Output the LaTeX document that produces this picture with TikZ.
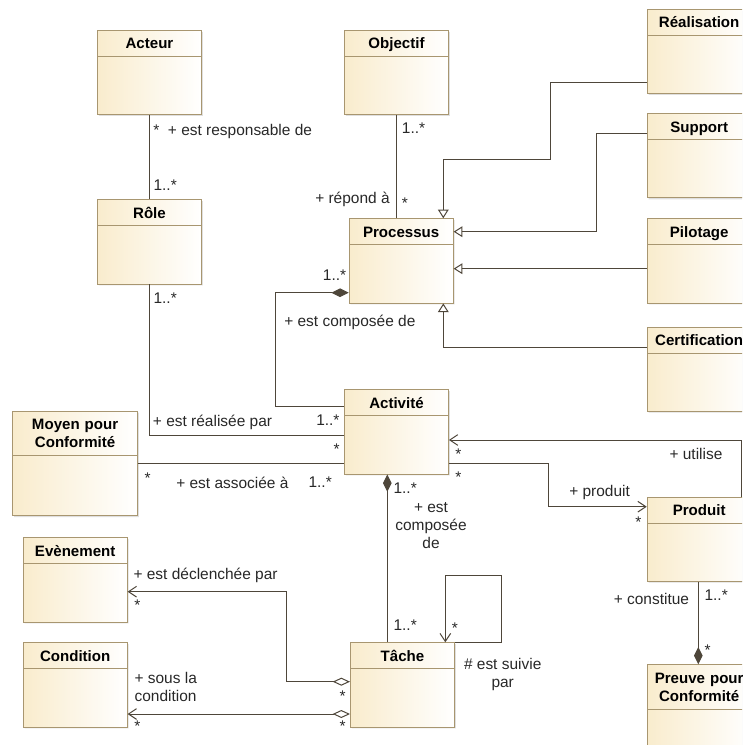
\documentclass[tikz,border=0pt]{standalone}
\usepackage{fontspec}
\setmainfont{Liberation Sans}
\usetikzlibrary{
  arrows.meta,
  calc,
  positioning,
  shapes.multipart,
  shadows
}
\definecolor{umlfill}{RGB}{249,236,205}
\definecolor{umlborder}{RGB}{168,150,112}
\definecolor{umlline}{RGB}{78,70,58}
\definecolor{umltext}{RGB}{40,40,40}
\newcommand{\umlhead}[1]{\rule{0pt}{13.5pt}#1\rule[-5.25pt]{0pt}{0pt}}
\newcommand{\umlbody}{\rule{0pt}{43pt}}

\begin{document}
\begin{tikzpicture}[
  x=0.75pt, y=-0.75pt,
  umlclass/.style={rectangle split, rectangle split parts=2, anchor=north west,
               draw=umlborder, line width=0.7pt, left color=umlfill, right color=white,
               text width=75pt, align=center, inner xsep=1.5pt, inner ysep=0pt,
               font=\fontsize{11.3}{13.75}\selectfont\bfseries,
               drop shadow={shadow xshift=1pt, shadow yshift=-1pt, opacity=0.25}},
  lbl/.style={inner sep=0pt, text=umltext, font=\fontsize{11.6}{13.5}\selectfont},
  assoc/.style={draw=umlline, line width=0.75pt},
  gener/.style={assoc, -{Triangle[open, length=6.5pt, width=8pt]}},
  navig/.style={assoc, -{Straight Barb[length=6pt, width=8pt]}},
  compos/.style={assoc, {Diamond[length=13pt, width=6.5pt]}-},
  aggreg/.style={assoc, {Diamond[open, fill=white, length=13pt, width=6pt]}-{Straight Barb[length=6pt, width=8pt]}}
]
  \useasboundingbox (0,0) rectangle (742,745);
  \clip (0,0) rectangle (742,745);

  % classes
  \node[umlclass] (acteur) at (97,30) {\umlhead{Acteur}\nodepart{two}\umlbody};
  \node[umlclass] (objectif) at (344,30) {\umlhead{Objectif}\nodepart{two}\umlbody};
  \node[umlclass] (role) at (97,199.3) {\umlhead{Rôle}\nodepart{two}\umlbody};
  \node[umlclass] (processus) at (348.7,218.3) {\umlhead{Processus}\nodepart{two}\umlbody};
  \node[umlclass] (realisation) at (646.7,9) {\umlhead{Réalisation}\nodepart{two}\umlbody};
  \node[umlclass] (support) at (646.7,113.3) {\umlhead{Support}\nodepart{two}\umlbody};
  \node[umlclass] (pilotage) at (646.7,218.3) {\umlhead{Pilotage}\nodepart{two}\umlbody};
  \node[umlclass] (certification) at (646.7,326.7) {\umlhead{Certification}\nodepart{two}\umlbody};
  \node[umlclass] (activite) at (344,389.3) {\umlhead{Activité}\nodepart{two}\umlbody};
  \node[umlclass, text width=90.5pt] (moyen) at (12.3,410.7)
    {\umlhead{Moyen pour\\Conformité}\nodepart{two}\rule{0pt}{44.5pt}};
  \node[umlclass] (produit) at (646.7,496.7) {\umlhead{Produit}\nodepart{two}\umlbody};
  \node[umlclass] (evenement) at (22.7,537.3) {\umlhead{Evènement}\nodepart{two}\umlbody};
  \node[umlclass] (condition) at (22.7,642.3) {\umlhead{Condition}\nodepart{two}\umlbody};
  \node[umlclass] (tache) at (350,642.3) {\umlhead{Tâche}\nodepart{two}\umlbody};
  \node[umlclass] (preuve) at (646.7,664.3)
    {\umlhead{Preuve pour\\Conformité}\nodepart{two}\rule{0pt}{45pt}};

  % associations
  \draw[assoc] (acteur) -- (role);
  \draw[assoc] (role.south) |- (activite.west |- 0,435);
  \draw[assoc] (moyen.east |- 0,463.3) -- (activite.west |- 0,463.3);
  \draw[compos] (processus.west |- 0,292.7) -| (275.3,406.7) -- (activite.west |- 0,406.7);
  \draw[assoc] (objectif.south) -- (objectif.south |- processus.north);
  \draw[navig] (produit.north -| 741,0) |- (activite.east |- 0,440);
  \draw[navig] (activite.east |- 0,463.3) -| (548.3,506.7) -- (produit.west |- 0,506.7);
  \draw[compos] (activite.south -| 387.3,0) -- (tache.north -| 387.3,0);
  \draw[navig] (tache.north east) -- ++(46.7,0) |- (445.3,575.7) -- (tache.north -| 445.3,0);
  \draw[aggreg] (tache.west |- 0,681.7) -| (286.7,591.7) -- (evenement.east |- 0,591.7);
  \draw[aggreg] (tache.west |- 0,714) -- (condition.east |- 0,714);
  \draw[compos] (preuve.north -| 698.3,0) -- (produit.south -| 698.3,0);

  % generalisations
  \draw[gener] (realisation.west |- 0,82.7) -| (550.3,159.3) -| (processus.north -| 443.3,0);
  \draw[gener] (support.west |- 0,133.7) -| (596,231.7) -- (processus.east |- 0,231.7);
  \draw[gener] (pilotage.west |- 0,268.7) -- (processus.east |- 0,268.7);
  \draw[gener] (certification.west |- 0,347) -| (processus.south -| 443.3,0);

  % role names and multiplicities
  \node[lbl, anchor=base west] (m1) at (153,135.7) {*};
  \node[lbl, anchor=base west] (r1) at (167.7,135.7) {+ est responsable de};
  \node[lbl, anchor=base west] (m2) at (153.3,190.7) {1..*};
  \node[lbl, anchor=base west] (m3) at (153.3,303) {1..*};
  \node[lbl, anchor=base west] (r2) at (152.7,426.7) {+ est réalisée par};
  \node[lbl, anchor=base west] (m4) at (316,425) {1..*};
  \node[lbl, anchor=base west] (m5) at (333.3,454.7) {*};
  \node[lbl, anchor=base west] (m6) at (144.3,483) {*};
  \node[lbl, anchor=base west] (r3) at (176,488.3) {+ est associée à};
  \node[lbl, anchor=base west] (m7) at (308.3,487.3) {1..*};
  \node[lbl, anchor=base west] (m8) at (322.7,280) {1..*};
  \node[lbl, anchor=base west] (r4) at (284,326.7) {+ est composée de};
  \node[lbl, anchor=base west] (m9) at (401.7,134) {1..*};
  \node[lbl, anchor=base west] (r5) at (315,203.3) {+ répond à};
  \node[lbl, anchor=base west] (m10) at (401.7,209) {*};
  \node[lbl, anchor=base west] (r6) at (669.3,459.3) {+ utilise};
  \node[lbl, anchor=base west] (m11) at (455,459.7) {*};
  \node[lbl, anchor=base west] (m12) at (455,482.3) {*};
  \node[lbl, anchor=base west] (r7) at (569,496.7) {+ produit};
  \node[lbl, anchor=base west] (m13) at (635,527.3) {*};
  \node[lbl, anchor=base west] (m14) at (393.3,493.3) {1..*};
  \node[lbl, align=center] (r8) at (431,525.7) {+ est\\composée\\de};
  \node[lbl, anchor=base west] (m15) at (393.3,630) {1..*};
  \node[lbl, anchor=base west] (m16) at (451.7,633.3) {*};
  \node[lbl, align=center] (r9) at (502.7,674.7) {\# est suivie\\par};
  \node[lbl, anchor=base west] (r10) at (133.3,579.3) {+ est déclenchée par};
  \node[lbl, anchor=base west] (m17) at (134,610) {*};
  \node[lbl, anchor=base west] (m18) at (339.3,701) {*};
  \node[lbl, align=left, anchor=north west] (r11) at (134.3,672.3) {+ sous la\\condition};
  \node[lbl, anchor=base west] (m19) at (134,731) {*};
  \node[lbl, anchor=base west] (m20) at (339.3,731) {*};
  \node[lbl, anchor=base east] (r12) at (689.3,604) {+ constitue};
  \node[lbl, anchor=base west] (m21) at (704.3,600.7) {1..*};
  \node[lbl, anchor=base west] (m22) at (704.3,655.7) {*};
\end{tikzpicture}
\end{document}
